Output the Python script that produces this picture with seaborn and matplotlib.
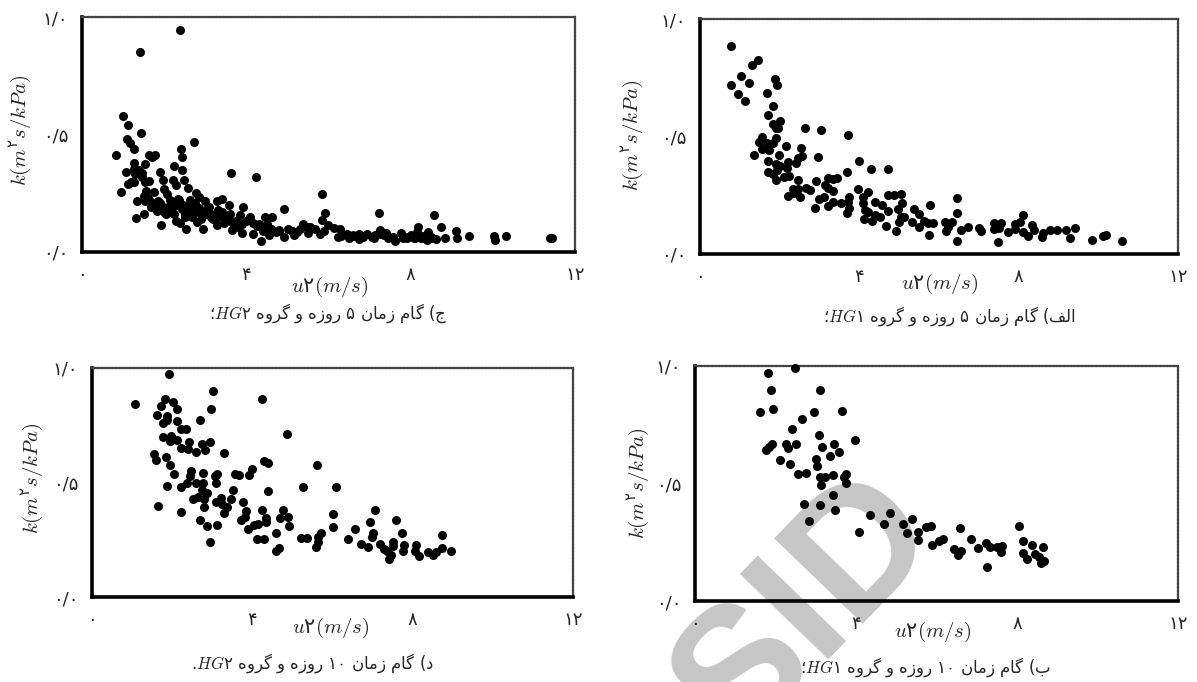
import re
import numpy as np
import pandas as pd
import matplotlib
matplotlib.use("Agg")
import matplotlib.pyplot as plt
import seaborn as sns

W, H = 1197, 682

# ج) 5 day step, HG2
u_c = [2.39,1.41,1.01,1.12,1.44,2.72,1.10,1.17,1.26,.83,1.62,1.78,1.71,2.40,2.43,1.27,1.53,2.24,2.43,1.08,1.26,1.38,1.90,1.47,3.63,4.24,1.98,2.22,2.48,1.12,1.26,1.53,1.64,2.29,2.57,.96,1.56,1.75,1.99,2.06,2.78,5.83,1.50,1.33,1.54,1.69,1.84,2.15,2.34,2.62,2.86,3.0,3.40,3.28,3.59,3.93,1.69,1.83,1.97,2.11,2.29,2.43,2.57,2.72,2.86,3.04,3.32,4.92,7.24,5.92,8.57,1.50,1.32,1.92,2.25,2.29,2.39,2.53,2.67,2.81,2.95,2.95,3.14,3.28,3.46,3.60,3.65,3.84,3.79,3.90,4.09,4.17,4.17,4.35,4.45,4.62,4.35,4.51,4.54,4.73,4.92,5.01,5.15,5.24,5.38,5.48,5.66,5.80,5.85,5.99,6.13,6.27,6.23,6.46,6.51,6.74,6.74,6.93,7.12,7.26,7.35,7.58,7.63,7.77,7.82,8.01,8.15,8.19,8.24,8.43,8.40,8.61,8.75,8.83,9.10,9.13,9.42,10.02,10.05,10.33,11.38,11.43,6.6,6.85,7.05,7.22,7.45,7.92,8.09,8.3,8.5,5.55,5.1,4.8,4.6,4.25,3.7,3.2,3.05,2.7,2.5,2.05,1.8,
       1.6,1.75,1.9,2.0,2.15,2.2,2.35,2.45,2.5,2.6,2.7,2.75,2.85,2.9,3.1,3.15,3.3,3.4,3.5,3.6,3.75,3.9,4.0,4.3,4.4,4.6,4.8,5.1,5.3,5.5,5.9,6.3,6.6,6.85,7.1,7.4,7.9,8.1,8.3,8.5,1.3,1.45,1.2]
k_c = [.943,.851,.58,.542,.505,.47,.48,.462,.438,.413,.413,.413,.403,.437,.405,.379,.373,.364,.349,.342,.354,.349,.339,.335,.337,.318,.307,.307,.308,.29,.30,.297,.304,.283,.272,.256,.259,.257,.267,.248,.25,.246,.24,.219,.219,.212,.216,.223,.226,.222,.233,.219,.226,.215,.198,.191,.191,.174,.191,.184,.198,.184,.177,.194,.188,.184,.18,.181,.167,.167,.156,.16,.144,.113,.163,.134,.123,.098,.149,.127,.099,.156,.149,.113,.123,.134,.092,.156,.106,.081,.149,.075,.123,.047,.149,.149,.106,.12,.071,.085,.064,.099,.071,.085,.12,.106,.099,.078,.137,.117,.103,.099,.064,.078,.061,.078,.057,.078,.071,.092,.071,.064,.047,.082,.061,.071,.085,.106,.061,.085,.05,.057,.106,.059,.089,.059,.069,.066,.05,.069,.059,.059,.074,.066,.062,.075,.06,.062,.06,.058,.062,.105,.09,.095,.1,.11,.11,.14,.16,.17,.15,.16,.2,
       .23,.2,.21,.17,.2,.17,.22,.2,.16,.19,.16,.21,.17,.14,.19,.16,.15,.17,.14,.16,.13,.12,.13,.12,.09,.1,.09,.09,.1,.08,.09,.07,.07,.065,.06,.08,.06,.06,.07,.06,.33,.32,.3]

# الف) 5 day step, HG1
u_a = [.77,1.45,1.30,1.03,1.24,.78,.96,1.14,1.88,1.94,1.67,1.83,1.71,2.0,1.83,1.90,1.97,2.63,3.04,3.71,1.90,1.56,1.49,1.83,1.69,1.56,1.74,2.15,2.54,1.36,1.99,2.56,2.47,2.95,1.71,2.2,2.41,4.0,1.92,2.01,2.18,4.29,4.73,1.71,1.94,1.83,2.24,2.12,3.68,1.92,2.45,2.91,3.21,3.34,3.45,3.13,2.66,2.75,2.34,2.47,3.21,3.34,3.96,4.23,2.2,2.52,2.36,3.11,2.98,3.75,4.73,4.87,5.05,6.45,3.21,3.34,3.53,3.71,4.08,4.08,4.40,5.08,4.58,5.77,2.88,3.75,3.68,4.14,4.21,4.73,4.96,5.38,4.40,4.53,5.49,6.45,8.10,4.12,4.33,5.04,5.13,5.31,4.99,4.67,5.51,5.63,5.72,5.86,4.93,5.75,6.14,6.32,6.23,6.18,6.46,6.55,6.73,7.01,7.05,7.37,7.55,7.37,7.51,7.49,7.92,8.03,7.74,7.92,8.10,8.24,8.33,8.38,8.61,8.58,8.79,8.97,9.18,9.41,9.30,9.84,10.12,10.18,10.6]
k_a = [.884,.826,.803,.757,.729,.719,.679,.652,.743,.719,.687,.628,.59,.567,.553,.535,.535,.535,.529,.505,.495,.496,.478,.471,.471,.447,.443,.46,.452,.42,.42,.418,.407,.411,.396,.393,.389,.396,.382,.376,.367,.362,.362,.35,.357,.34,.333,.329,.348,.313,.315,.309,.322,.318,.322,.294,.282,.272,.275,.275,.279,.267,.277,.265,.248,.244,.261,.244,.234,.244,.251,.251,.254,.237,.206,.223,.218,.223,.241,.216,.223,.218,.209,.207,.197,.194,.173,.187,.18,.183,.191,.19,.166,.159,.169,.173,.167,.149,.14,.159,.159,.138,.138,.119,.116,.142,.13,.13,.099,.081,.138,.138,.116,.098,.057,.102,.113,.112,.099,.133,.133,.105,.109,.05,.128,.138,.092,.105,.092,.077,.123,.102,.088,.071,.102,.102,.102,.112,.068,.06,.077,.079,.057]

# د) 10 day step, HG2
u_d = [1.91,3.03,4.23,1.08,1.82,2.03,1.71,2.12,2.96,1.63,1.86,2.13,1.88,2.70,1.77,2.21,2.35,4.86,1.76,1.97,2.13,1.95,2.95,2.42,2.74,2.22,2.40,2.81,2.59,3.29,1.55,1.60,1.84,1.94,4.28,4.39,5.62,3.99,3.92,2.48,2.05,2.76,2.45,3.13,3.06,3.58,3.67,3.10,2.38,2.60,2.76,1.88,2.22,5.26,6.09,3.51,4.38,2.74,2.86,2.64,2.53,2.79,3.22,3.46,3.10,3.76,1.65,2.79,3.25,3.37,3.29,2.22,4.24,4.76,7.05,3.85,6.01,3.81,4.33,4.90,4.68,3.71,2.70,4.35,7.59,6.94,2.87,3.13,4.04,4.13,4.92,3.89,6.02,6.56,4.60,5.72,7.02,7.74,8.72,5.21,5.36,5.63,4.12,4.29,6.39,2.95,5.63,6.98,6.71,7.18,7.52,7.5,5.58,6.88,7.79,8.08,4.66,4.58,7.29,7.76,8.05,7.36,7.45,7.42,8.15,8.38,8.51,8.59,8.72,8.95]
k_d = [.972,.901,.865,.843,.864,.851,.832,.82,.819,.793,.79,.768,.775,.774,.759,.732,.732,.713,.699,.701,.687,.681,.677,.677,.667,.652,.648,.643,.633,.629,.626,.6,.612,.577,.593,.586,.578,.557,.532,.551,.538,.542,.528,.536,.528,.539,.532,.5,.5,.496,.5,.484,.481,.481,.481,.467,.465,.467,.455,.438,.426,.428,.433,.428,.413,.413,.396,.394,.406,.391,.365,.37,.378,.38,.38,.377,.362,.351,.346,.348,.343,.335,.338,.326,.335,.328,.312,.314,.314,.319,.312,.296,.304,.296,.278,.278,.278,.278,.27,.258,.258,.264,.252,.252,.252,.238,.241,.264,.233,.23,.242,.223,.219,.22,.225,.226,.213,.201,.21,.2,.2,.199,.184,.167,.18,.196,.184,.196,.212,.199]

# ب) 10 day step, HG1
u_b = [2.48,1.81,1.88,3.10,1.94,1.61,2.96,3.64,2.66,2.41,3.09,3.98,3.45,1.91,1.85,1.76,2.25,2.32,2.5,3.16,3.58,3.36,2.11,3.0,2.36,3.02,2.55,2.77,3.43,3.75,3.69,3.10,3.22,3.76,3.12,3.44,2.70,3.11,3.49,4.34,4.85,5.40,2.84,4.70,5.16,8.06,6.58,5.87,5.75,4.08,5.26,5.54,5.55,6.16,6.07,6.85,5.90,8.16,7.24,8.38,8.64,7.63,7.51,7.33,7.02,6.44,6.62,6.54,7.60,8.14,8.44,8.26,8.55,7.26,8.59,8.66]
k_b = [.993,.97,.896,.899,.816,.804,.804,.807,.774,.733,.708,.687,.668,.667,.655,.644,.668,.651,.668,.655,.634,.617,.6,.604,.583,.573,.54,.545,.535,.542,.526,.526,.526,.502,.492,.451,.414,.409,.389,.366,.376,.35,.339,.329,.329,.318,.312,.318,.313,.295,.289,.295,.258,.262,.257,.262,.24,.254,.247,.237,.228,.235,.23,.23,.224,.221,.214,.194,.21,.206,.2,.18,.187,.146,.162,.17]

x_ticks = [0, 4, 8, 12]
x_tick_labels = ["۰", "۴", "۸", "۱۲"]
y_ticks = [0, 0.5, 1]
y_tick_labels = ["۰/۰", "۰/۵", "۱/۰"]

caption_c = "ج) گام زمان ۵ روزه و گروه HG۲؛"
caption_a = "الف) گام زمان ۵ روزه و گروه HG۱؛"
caption_d = "د) گام زمان ۱۰ روزه و گروه HG۲."
caption_b = "ب) گام زمان ۱۰ روزه و گروه HG۱؛"

# isolated, final, initial, medial
FORMS = {
    "ا": "\uFE8D\uFE8E", "د": "\uFEA9\uFEAA", "ر": "\uFEAD\uFEAE",
    "ز": "\uFEAF\uFEB0", "و": "\uFEED\uFEEE",
    "ب": "\uFE8F\uFE90\uFE91\uFE92", "ج": "\uFE9D\uFE9E\uFE9F\uFEA0",
    "ف": "\uFED1\uFED2\uFED3\uFED4", "ل": "\uFEDD\uFEDE\uFEDF\uFEE0",
    "م": "\uFEE1\uFEE2\uFEE3\uFEE4", "ن": "\uFEE5\uFEE6\uFEE7\uFEE8",
    "ه": "\uFEE9\uFEEA\uFEEB\uFEEC", "گ": "\uFB92\uFB93\uFB94\uFB95",
}


def shape(text):
    # matplotlib has no arabic shaping, so pick the joined glyphs here
    out = ""
    for i, c in enumerate(text):
        if c not in FORMS:
            out += c
            continue
        prev = text[i - 1] if i > 0 else " "
        nxt = text[i + 1] if i < len(text) - 1 else " "
        from_prev = prev in FORMS and len(FORMS[prev]) == 4
        to_next = nxt in FORMS and len(FORMS[c]) == 4
        if from_prev and to_next:
            out += FORMS[c][3]
        elif to_next:
            out += FORMS[c][2]
        elif from_prev:
            out += FORMS[c][1]
        else:
            out += FORMS[c][0]
    return out


def visual(text):
    # right to left order, with latin letters and digits kept as they are
    parts = re.findall(r"[A-Za-z۰-۹]+|[^A-Za-z۰-۹]+", shape(text))
    res = []
    for p in reversed(parts):
        if re.fullmatch(r"[A-Za-z]+[۰-۹]+", p):
            m = re.match(r"[A-Za-z]+", p).group()
            res.append("$" + m + "$" + p[len(m):])
        elif re.match(r"[A-Za-z۰-۹]", p):
            res.append(p)
        else:
            res.append(p[::-1].replace(")", "("))
    return "".join(res)


sns.set_style("white")
plt.rcParams["font.family"] = ["DejaVu Sans"]
plt.rcParams["mathtext.fontset"] = "custom"
plt.rcParams["mathtext.rm"] = "cmr10"
plt.rcParams["mathtext.it"] = "cmmi10"
plt.rcParams["mathtext.bf"] = "DejaVu Sans"
plt.rcParams["axes.formatter.use_mathtext"] = False

fig = plt.figure(figsize=(W / 100, H / 100), dpi=100)

# watermark sits behind the panels
fig.text(807 / W, 1 - 610 / H, "SID", fontsize=128, fontweight="bold", color="#c6c6c6",
         rotation=46, rotation_mode="anchor", ha="center", va="center", zorder=-5,
         family="Liberation Sans")

# left, top, right, bottom in pixels, then label and caption places
panels = [
    (u_c, k_c, caption_c, (82, 17, 575, 252), (330, 287), (20, 130), (328, 313)),
    (u_a, k_a, caption_a, (700, 19, 1178, 254), (940, 284), (632, 135), (950, 316)),
    (u_d, k_d, caption_d, (92, 368, 573, 597), (331, 628), (32, 478), (312, 663)),
    (u_b, k_b, caption_b, (695, 366, 1178, 601), (933, 632), (638, 483), (925, 667)),
]

for u, k, caption, box, xl, yl, cap in panels:
    left, top, right, bottom = box
    ax = fig.add_axes([left / W, 1 - bottom / H, (right - left) / W, (bottom - top) / H])
    ax.patch.set_alpha(0)
    df = pd.DataFrame({"u": u, "k": k})
    sns.scatterplot(data=df, x="u", y="k", ax=ax, color="black", marker="o", s=42,
                    linewidth=0, clip_on=False, zorder=3)
    ax.set_xlim(0, 12)
    ax.set_ylim(0, 1)
    ax.set_xticks(x_ticks)
    ax.set_xticklabels(x_tick_labels, fontsize=13)
    ax.set_yticks(y_ticks)
    ax.set_yticklabels(y_tick_labels, fontsize=13)
    ax.tick_params(axis="both", direction="out", length=3, width=2, color="black", pad=7)
    for s in ["left", "bottom"]:
        ax.spines[s].set_linewidth(2.6)
        ax.spines[s].set_color("black")
    for s in ["top", "right"]:
        ax.spines[s].set_linewidth(1.6)
        ax.spines[s].set_color("#444444")
        ax.spines[s].set_linestyle((0, (1, 0.6)))
    ax.set_xlabel("")
    ax.set_ylabel("")
    fig.text(xl[0] / W, 1 - xl[1] / H, r"$u\mathbf{۲}(m/s)$", fontsize=15,
             ha="center", va="center")
    fig.text(yl[0] / W, 1 - yl[1] / H, r"$k(m^{\mathbf{۲}}s/kPa)$", fontsize=15,
             rotation=90, ha="center", va="center")
    fig.text(cap[0] / W, 1 - cap[1] / H, visual(caption), fontsize=12,
             ha="center", va="center")

fig.savefig("out.png", dpi=100)
